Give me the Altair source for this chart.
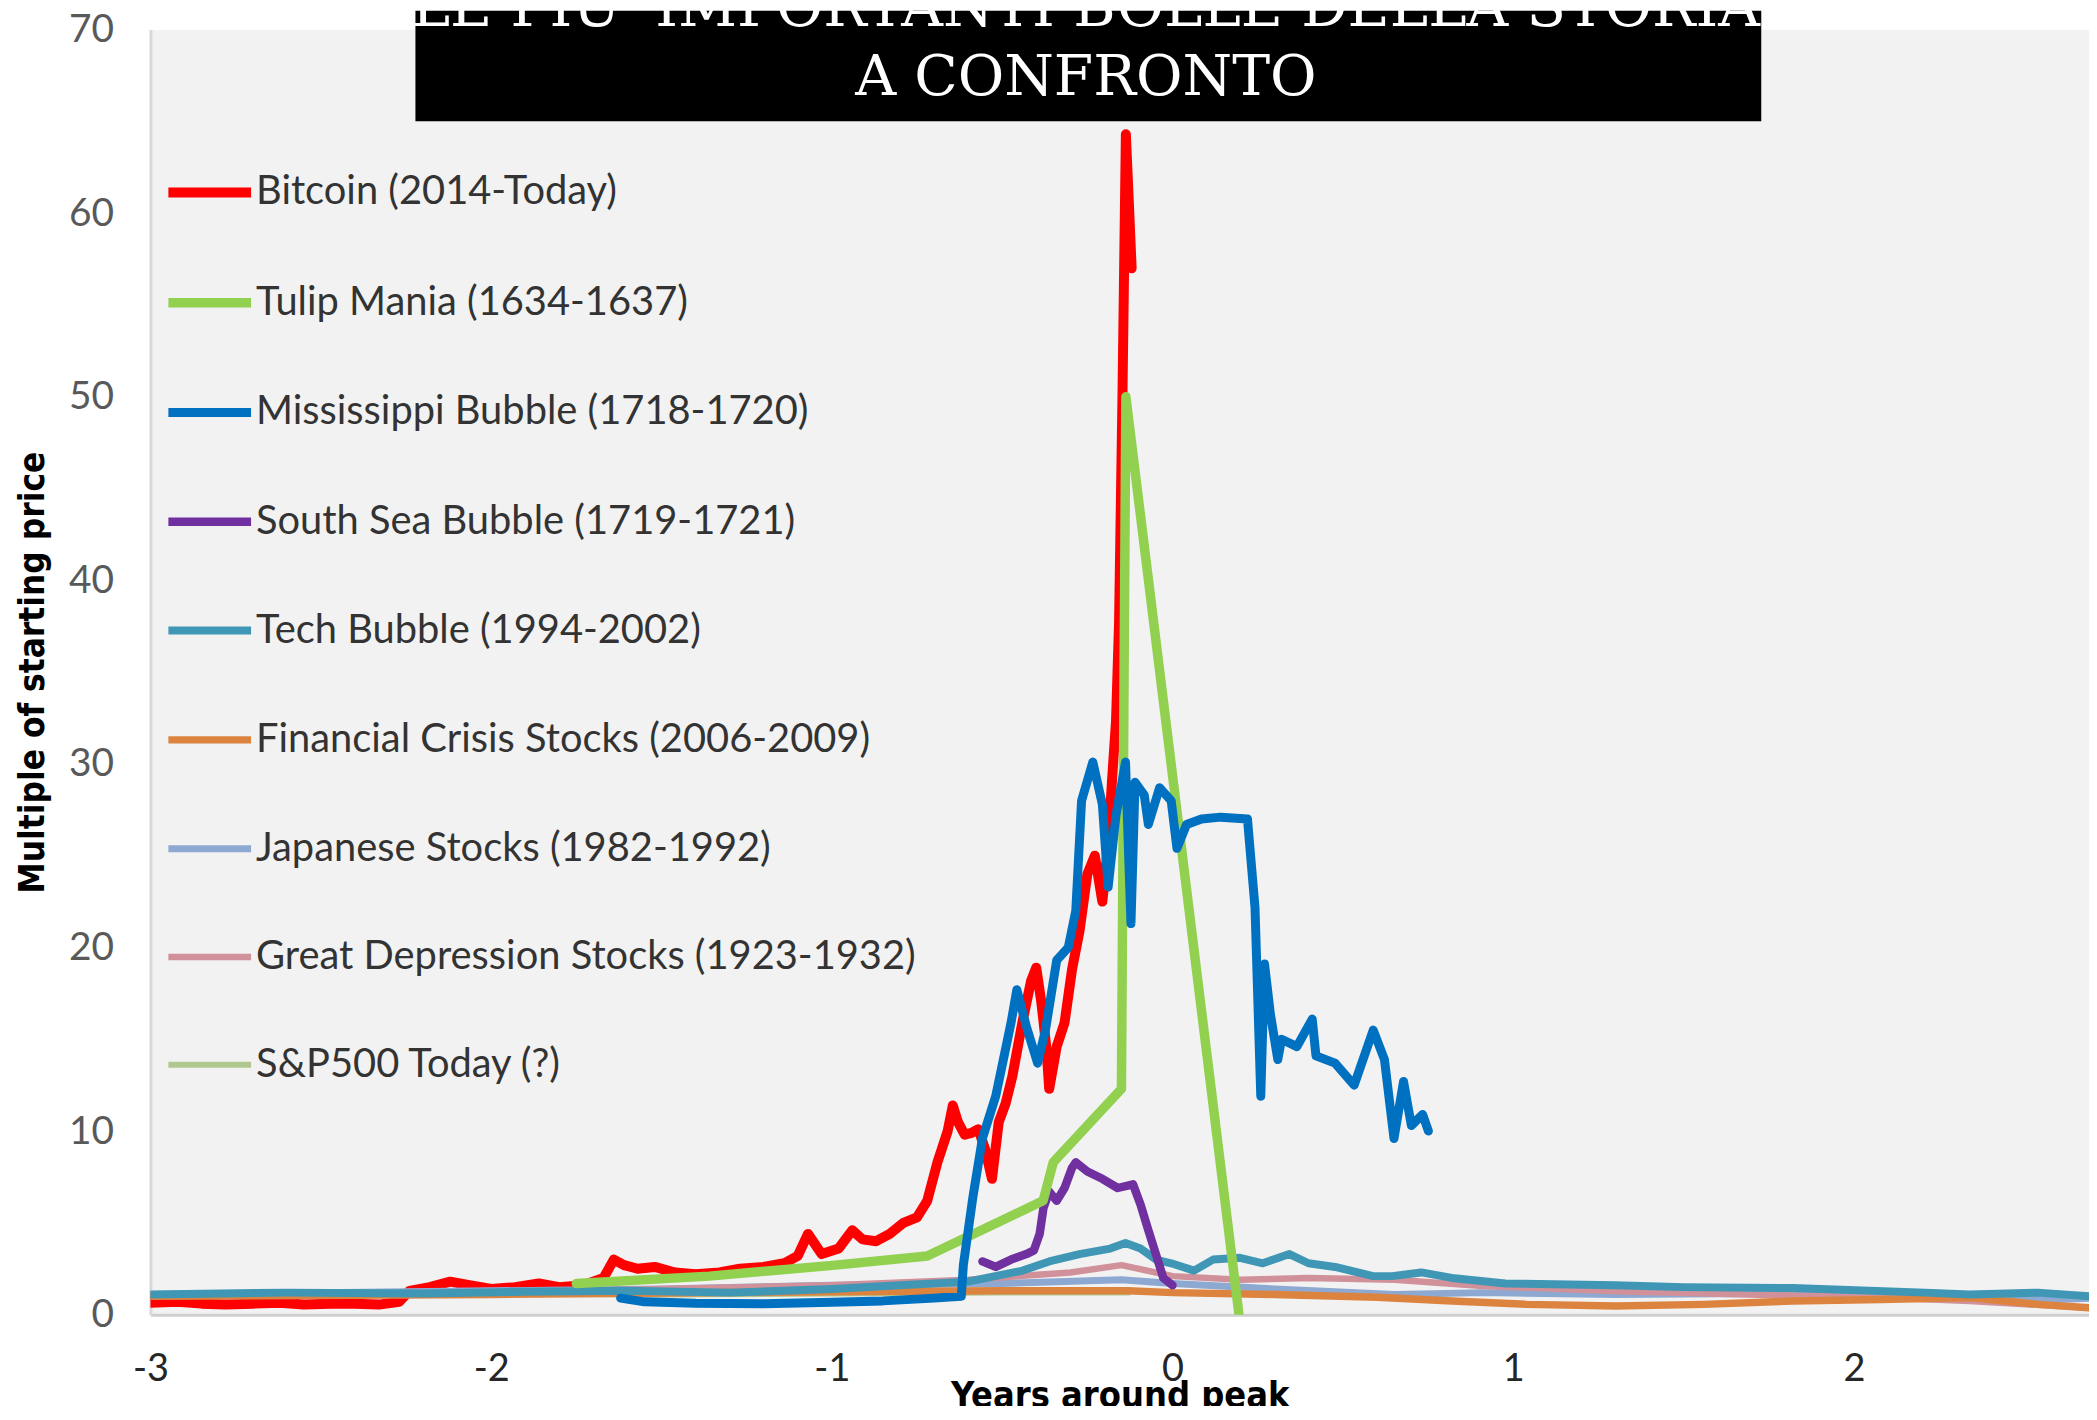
import altair as alt
import pandas as pd

SERIES = [
    "Bitcoin (2014-Today)",
    "Tulip Mania (1634-1637)",
    "Mississippi Bubble (1718-1720)",
    "South Sea Bubble (1719-1721)",
    "Tech Bubble (1994-2002)",
    "Financial Crisis Stocks (2006-2009)",
    "Japanese Stocks (1982-1992)",
    "Great Depression Stocks (1923-1932)",
    "S&P500 Today (?)",
]
COLORS = ["#ff0000", "#92d050", "#0070c0", "#7030a0", "#3f97b5",
          "#dc843f", "#8ea9d1", "#d1919a", "#b0c890"]
WIDTHS = [10, 6, 8, 6.5, 6, 6, 6, 6, 6]
# drawing order (first drawn = bottom)
DRAW_ORDER = [0, 8, 6, 7, 5, 4, 3, 1, 2]

X_TICKS = [-3, -2, -1, 0, 1, 2]
Y_TICKS = [0, 10, 20, 30, 40, 50, 60, 70]

btc_x = [-3.0, -2.92, -2.85, -2.78, -2.7, -2.62, -2.55, -2.47, -2.4, -2.33, -2.27, -2.24,
         -2.18, -2.12, -2.06, -2.0, -1.93, -1.86, -1.8, -1.73, -1.67, -1.64, -1.61, -1.57,
         -1.52, -1.46, -1.4, -1.33, -1.27, -1.2, -1.14, -1.1, -1.07, -1.03, -0.98, -0.94,
         -0.91, -0.87, -0.83, -0.79, -0.75, -0.72, -0.69, -0.66, -0.645, -0.63, -0.61, -0.59,
         -0.57, -0.55, -0.53, -0.51, -0.49, -0.47, -0.44, -0.415, -0.40, -0.385, -0.37, -0.362,
         -0.34, -0.317, -0.295, -0.273, -0.25, -0.228, -0.206, -0.189, -0.178, -0.166, -0.157,
         -0.147, -0.137, -0.128, -0.12]
btc_y = [0.65, 0.7, 0.6, 0.55, 0.6, 0.65, 0.55, 0.6, 0.6, 0.55, 0.7, 1.3,
         1.5, 1.8, 1.6, 1.4, 1.5, 1.7, 1.5, 1.6, 2.0, 3.0, 2.7, 2.5,
         2.6, 2.3, 2.2, 2.3, 2.5, 2.6, 2.8, 3.2, 4.4, 3.3, 3.6, 4.6,
         4.1, 4.0, 4.4, 5.0, 5.3, 6.2, 8.3, 10.0, 11.4, 10.5, 9.8, 9.9,
         10.1, 9.0, 7.4, 10.5, 11.5, 13.0, 16.0, 18.2, 18.9, 17.0, 14.5, 12.3,
         14.6, 15.9, 18.8, 20.9, 24.0, 25.0, 22.5, 25.6, 29.0, 32.3, 37.7,
         50.0, 64.3, 60.5, 57.0]

tulip_x = [-1.75, -1.36, -0.99, -0.72, -0.38, -0.35, -0.15, -0.137, 0.195]
tulip_y = [1.7, 2.1, 2.7, 3.2, 6.2, 8.3, 12.3, 50.0, 0.0]

miss_x = [-1.62, -1.55, -1.4, -1.2, -1.0, -0.85, -0.7, -0.62,
          -0.614, -0.586, -0.558, -0.519, -0.474, -0.457, -0.429, -0.396, -0.373, -0.340,
          -0.306, -0.284, -0.267, -0.234, -0.206, -0.189, -0.166, -0.138, -0.122, -0.110,
          -0.083, -0.071, -0.038, -0.004, 0.013, 0.041, 0.085, 0.141, 0.220, 0.242, 0.259,
          0.270, 0.287, 0.309, 0.320, 0.365, 0.410, 0.421, 0.477, 0.533, 0.589, 0.622,
          0.650, 0.678, 0.701, 0.734, 0.751]
miss_y = [0.9, 0.7, 0.62, 0.6, 0.68, 0.75, 0.9, 1.0,
          2.7, 6.4, 9.6, 11.9, 15.9, 17.7, 15.7, 13.7, 15.5, 19.3,
          20.0, 22.0, 28.0, 30.1, 27.8, 23.3, 27.2, 30.1, 21.3, 29.0,
          28.3, 26.7, 28.7, 28.0, 25.4, 26.7, 27.0, 27.1, 27.0, 22.2, 11.9,
          19.1, 16.4, 13.9, 15.0, 14.6, 16.1, 14.1, 13.7, 12.5, 15.5, 13.9,
          9.6, 12.7, 10.3, 10.9, 10.0]

south_x = [-0.558, -0.519, -0.474, -0.429, -0.407, -0.390, -0.379, -0.362, -0.340, -0.317,
           -0.295, -0.284, -0.250, -0.206, -0.161, -0.116, -0.094, -0.071, -0.049, -0.027, 0.0]
south_y = [2.9, 2.6, 3.0, 3.3, 3.5, 4.4, 5.8, 6.7, 6.2, 6.9,
           8.0, 8.3, 7.8, 7.4, 6.9, 7.1, 6.0, 4.6, 3.3, 2.0, 1.6]

tech_x = [-3.0, -2.6, -2.2, -1.9, -1.6, -1.3, -1.0, -0.8, -0.6, -0.44, -0.362, -0.273,
          -0.183, -0.138, -0.094, -0.049, -0.004, 0.063, 0.119, 0.198, 0.265, 0.343, 0.399,
          0.477, 0.589, 0.645, 0.73, 0.82, 0.977, 1.30, 1.50, 1.82, 2.21, 2.34, 2.54, 2.69]
tech_y = [1.1, 1.2, 1.15, 1.25, 1.3, 1.2, 1.4, 1.6, 1.8, 2.4, 2.9, 3.3,
          3.6, 3.9, 3.6, 3.0, 2.8, 2.4, 3.0, 3.1, 2.8, 3.3, 2.8,
          2.6, 2.1, 2.1, 2.3, 2.0, 1.7, 1.6, 1.5, 1.45, 1.2, 1.1, 1.2, 1.0]

fin_x = [-3.0, -2.0, -1.0, -0.5, -0.13, 0.0, 0.3, 0.6, 0.82, 1.04, 1.30, 1.56, 1.82,
         2.08, 2.34, 2.54, 2.69]
fin_y = [1.0, 1.1, 1.25, 1.3, 1.3, 1.2, 1.1, 0.95, 0.74, 0.56, 0.47, 0.56, 0.74,
         0.83, 0.93, 0.56, 0.38]

jap_x = [-3.0, -2.5, -2.0, -1.5, -1.0, -0.5, -0.15, 0.0, 0.3, 0.652, 0.91, 1.3, 1.7,
         2.08, 2.6, 2.69]
jap_y = [1.1, 1.2, 1.3, 1.4, 1.6, 1.7, 1.9, 1.7, 1.4, 1.1, 1.2, 1.1, 1.15,
         1.2, 0.83, 0.9]

dep_x = [-3.0, -2.5, -2.0, -1.5, -1.0, -0.6, -0.3, -0.15, 0.0, 0.2, 0.4, 0.652, 0.91,
         1.30, 1.69, 2.08, 2.34, 2.69]
dep_y = [1.0, 1.1, 1.2, 1.4, 1.6, 1.9, 2.3, 2.7, 2.1, 1.9, 2.0, 1.9, 1.56,
         1.28, 1.1, 0.93, 0.74, 0.38]

sp_x = [-3.0, -2.5, -2.0, -1.5, -1.0, -0.5, -0.13]
sp_y = [1.05, 1.1, 1.15, 1.1, 1.15, 1.2, 1.2]

SERIES_X = [btc_x, tulip_x, miss_x, south_x, tech_x, fin_x, jap_x, dep_x, sp_x]
SERIES_Y = [btc_y, tulip_y, miss_y, south_y, tech_y, fin_y, jap_y, dep_y, sp_y]

TITLE_1 = "LE PIU' IMPORTANTI BOLLE DELLA STORIA"
TITLE_2 = "A CONFRONTO"

rows = []
for idx in DRAW_ORDER:
    for i, (xv, yv) in enumerate(zip(SERIES_X[idx], SERIES_Y[idx])):
        rows.append({"series": SERIES[idx], "x": xv, "y": yv, "i": i})
df = pd.DataFrame(rows)

legend = alt.Legend(
    orient="none", legendX=13, legendY=117, direction="vertical",
    symbolType="stroke", symbolSize=6889, labelFontSize=40, labelFont="Lato",
    labelColor="#333333", rowPadding=43.7, labelOffset=0, labelLimit=0, padding=0,
    title=None,
)

lines = alt.Chart(df).mark_line(strokeCap="round", strokeJoin="round", clip=True).encode(
    x=alt.X("x:Q", scale=alt.Scale(domain=[-3, 2.69], nice=False, zero=False),
            axis=alt.Axis(values=X_TICKS, title="Years around peak", grid=False,
                          ticks=False, tickSize=0, labelPadding=55, labelBaseline="middle",
                          labelExpr="'' + datum.value",
                          labelFont="Lato", labelFontSize=38, labelColor="#262626",
                          titleFont="Liberation Sans Narrow, DejaVu Sans Condensed, Lato",
                          titleFontSize=36, titleFontWeight="bold", titleColor="#000000",
                          titleY=92, titleBaseline="alphabetic",
                          domainColor="#cfcfcf", domainWidth=3, labelFlush=False)),
    y=alt.Y("y:Q", scale=alt.Scale(domain=[0, 70], nice=False),
            axis=alt.Axis(values=Y_TICKS, title="Multiple of starting price", grid=False,
                          ticks=False, tickSize=0, labelPadding=37,
                          labelFont="Lato", labelFontSize=39, labelColor="#595959",
                          titleFont="Liberation Sans Narrow, DejaVu Sans Condensed, Lato",
                          titleFontSize=35, titleFontWeight="bold", titleColor="#000000",
                          titleX=-118, titleBaseline="middle",
                          domainColor="#d9d9d9", domainWidth=3, labelFlush=False)),
    color=alt.Color("series:N", scale=alt.Scale(domain=SERIES, range=COLORS), legend=legend),
    strokeWidth=alt.StrokeWidth("series:N", scale=alt.Scale(domain=SERIES, range=WIDTHS),
                                legend=legend),
    detail="series:N",
    order="i:Q",
)

dummy = alt.Data(values=[{"k": 1}])
box = alt.Chart(dummy).mark_rect(color="#000000").encode(
    x=alt.value(266), x2=alt.value(1617), y=alt.value(-19), y2=alt.value(92)
)
t1 = alt.Chart(dummy).mark_text(
    text=TITLE_1, font="DejaVu Serif", fontSize=58, color="#ffffff",
    align="center", baseline="alphabetic"
).encode(x=alt.value(939), y=alt.value(-4))
t2 = alt.Chart(dummy).mark_text(
    text=TITLE_2, font="DejaVu Serif", fontSize=57, color="#ffffff",
    align="center", baseline="alphabetic"
).encode(x=alt.value(939), y=alt.value(66))

chart = alt.layer(lines, box, t1, t2).properties(
    width=1946, height=1290,
    autosize=alt.AutoSizeParams(type="none"),
    padding={"left": 143, "top": 19, "right": 0, "bottom": 89},
    background="#ffffff",
).configure_view(fill="#f2f2f2", stroke="transparent")

chart.save("out.html", embed_options={"renderer": "svg", "actions": False})
